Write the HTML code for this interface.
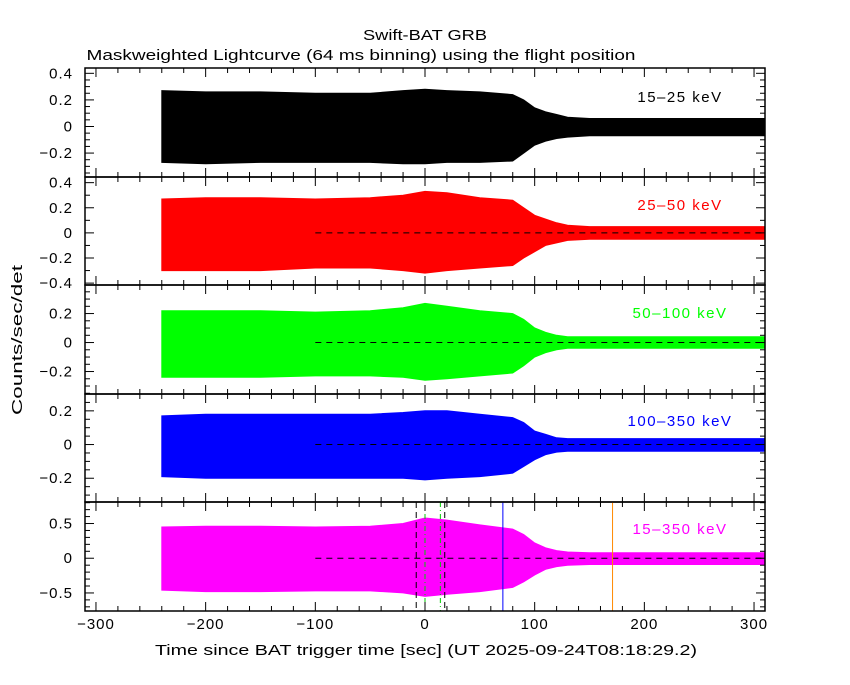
<!DOCTYPE html>
<html><head><meta charset="utf-8"><style>
body{margin:0;background:#fff;}
svg text{font-family:"Liberation Sans",sans-serif;}
</style></head><body>
<svg id="c" width="850" height="680" viewBox="0 0 850 680">
<text x="425" y="40" font-size="15" text-anchor="middle" textLength="124" lengthAdjust="spacingAndGlyphs">Swift-BAT GRB</text>
<text x="361" y="60" font-size="15" text-anchor="middle" textLength="549" lengthAdjust="spacingAndGlyphs">Maskweighted Lightcurve (64 ms binning) using the flight position</text>
<text transform="translate(22,340) rotate(-90)" font-size="15" text-anchor="middle" textLength="150" lengthAdjust="spacingAndGlyphs">Counts/sec/det</text>
<text x="426" y="655" font-size="15" text-anchor="middle" textLength="542" lengthAdjust="spacingAndGlyphs">Time since BAT trigger time [sec] (UT 2025-09-24T08:18:29.2)</text>
</svg>
<script>
const times=[-240,-200,-150,-100,-50,-20,0,20,50,80,90,100,110,120,130,150,200,250,310];
const upper1=[0.27,0.26,0.26,0.25,0.25,0.27,0.28,0.27,0.26,0.24,0.2,0.14,0.11,0.09,0.07,0.06,0.06,0.06,0.06];
const lower1=[-0.27,-0.28,-0.27,-0.27,-0.27,-0.28,-0.28,-0.27,-0.27,-0.26,-0.2,-0.14,-0.11,-0.09,-0.08,-0.07,-0.07,-0.07,-0.07];
const upper2=[0.27,0.28,0.28,0.27,0.28,0.3,0.33,0.32,0.28,0.26,0.2,0.14,0.11,0.08,0.06,0.05,0.05,0.05,0.05];
const lower2=[-0.3,-0.3,-0.3,-0.28,-0.28,-0.3,-0.32,-0.3,-0.28,-0.26,-0.2,-0.15,-0.1,-0.08,-0.06,-0.05,-0.05,-0.05,-0.05];
const upper3=[0.22,0.22,0.22,0.21,0.22,0.24,0.27,0.25,0.22,0.2,0.16,0.1,0.07,0.05,0.04,0.04,0.04,0.04,0.04];
const lower3=[-0.24,-0.24,-0.24,-0.23,-0.23,-0.24,-0.26,-0.25,-0.23,-0.21,-0.16,-0.1,-0.07,-0.05,-0.04,-0.04,-0.04,-0.04,-0.04];
const upper4=[0.17,0.18,0.18,0.18,0.18,0.19,0.2,0.2,0.18,0.16,0.13,0.08,0.06,0.04,0.035,0.035,0.035,0.035,0.035];
const lower4=[-0.19,-0.2,-0.2,-0.2,-0.2,-0.2,-0.21,-0.2,-0.19,-0.17,-0.13,-0.09,-0.06,-0.045,-0.04,-0.04,-0.04,-0.04,-0.04];
const upper5=[0.45,0.46,0.46,0.45,0.46,0.5,0.58,0.55,0.48,0.42,0.34,0.22,0.15,0.11,0.09,0.08,0.08,0.08,0.08];
const lower5=[-0.46,-0.48,-0.48,-0.47,-0.47,-0.5,-0.55,-0.52,-0.48,-0.42,-0.34,-0.24,-0.16,-0.12,-0.1,-0.09,-0.09,-0.09,-0.09];
const bandLabels=["15\u201325 keV","25\u201350 keV","50\u2013100 keV","100\u2013350 keV","15\u2013350 keV"];
const xTicks=[-300,-200,-100,0,100,200,300];
const markerTimes=[-8,18];
const t90Times=[0,14];
const blueTime=[71];
const orangeTime=[171];

const svg=document.getElementById('c');
const NS='http://www.w3.org/2000/svg';
const X0=85,X1=765,T0=-310,T1=310;
const xs=t=>X0+(t-T0)/(T1-T0)*(X1-X0);
const panels=[
 {top:68,bot:177,lo:-0.38,hi:0.44,ticks:[-0.2,0,0.2,0.4],minor:0.05,col:'#000',up:upper1,dn:lower1,dash:false,lx:680,ly:102},
 {top:177,bot:285,lo:-0.415,hi:0.445,ticks:[-0.4,-0.2,0,0.2,0.4],minor:0.1,col:'#f00',up:upper2,dn:lower2,dash:true,lx:680,ly:210},
 {top:285,bot:394,lo:-0.355,hi:0.397,ticks:[-0.2,0,0.2],minor:0.05,col:'#0f0',up:upper3,dn:lower3,dash:true,lx:680,ly:318},
 {top:394,bot:502,lo:-0.341,hi:0.3,ticks:[-0.2,0,0.2],minor:0.05,col:'#00f',up:upper4,dn:lower4,dash:true,lx:680,ly:426},
 {top:502,bot:611,lo:-0.76,hi:0.81,ticks:[-0.5,0,0.5],minor:0.1,col:'#f0f',up:upper5,dn:lower5,dash:true,lx:680,ly:534}
];
function el(tag,attrs,parent){const e=document.createElementNS(NS,tag);for(const k in attrs)e.setAttribute(k,attrs[k]);(parent||svg).appendChild(e);return e;}
function fmt(v){if(Math.abs(v)<1e-9)return '0';let s=String(Math.round(v*10)/10);return s.replace('-','\u2212');}
panels.forEach((p,i)=>{
 const ys=v=>p.bot-(v-p.lo)/(p.hi-p.lo)*(p.bot-p.top);
 const g=el('g',{});
 
 
 let d='';
 times.forEach((t,k)=>{d+=(k?'L':'M')+xs(t).toFixed(1)+' '+ys(p.up[k]).toFixed(1);});
 for(let k=times.length-1;k>=0;k--)d+='L'+xs(times[k]).toFixed(1)+' '+ys(p.dn[k]).toFixed(1);
 const band=el('path',{d:d+'Z',fill:p.col,stroke:p.col,'stroke-width':1},g);
 
 
 if(p.dash){
  const z=el('line',{x1:xs(-100),x2:X1,y1:ys(0),y2:ys(0),stroke:'#000','stroke-dasharray':'6,5','stroke-width':1},g);
  
  
 }
 if(i===4){
  markerTimes.forEach(t=>{const l=el('line',{x1:xs(t),x2:xs(t),y1:p.top,y2:p.bot,stroke:'#000','stroke-dasharray':'6,4'},g);
   
   });
  t90Times.forEach(t=>{const l=el('line',{x1:xs(t),x2:xs(t),y1:p.top,y2:p.bot,stroke:'#0c0','stroke-dasharray':'5,3,1,3'},g);
   
   });
  blueTime.forEach(t=>{const l=el('line',{x1:xs(t),x2:xs(t),y1:p.top,y2:p.bot,stroke:'#00f'},g);
   
   });
  orangeTime.forEach(t=>{const l=el('line',{x1:xs(t),x2:xs(t),y1:p.top,y2:p.bot,stroke:'#f80'},g);
   
   });
 }
 const fr=el('rect',{x:X0,y:p.top,width:X1-X0,height:p.bot-p.top,fill:'none',stroke:'#000','stroke-width':1.5},g);
 
 
 for(let v=Math.ceil(p.lo/p.minor)*p.minor;v<=p.hi+1e-9;v+=p.minor){
  const y=ys(v);const major=p.ticks.some(t=>Math.abs(t-v)<1e-6);const L=major?9:5;
  el('line',{x1:X0,x2:X0+L,y1:y,y2:y,stroke:'#000'},g);
  el('line',{x1:X1,x2:X1-L,y1:y,y2:y,stroke:'#000'},g);
 }
 p.ticks.forEach(v=>{const t=el('text',{x:73,y:ys(v)+5,'font-size':15,'text-anchor':'end','letter-spacing':'1'},g);t.textContent=fmt(v);
  
  });
 for(let t=-300;t<=300;t+=20){const x=xs(t);const major=t%100===0;const L=major?9:5;
  el('line',{x1:x,x2:x,y1:p.bot,y2:p.bot-L,stroke:'#000'},g);
  el('line',{x1:x,x2:x,y1:p.top,y2:p.top+L,stroke:'#000'},g);}
 const lb=el('text',{x:p.lx,y:p.ly,'font-size':15,'text-anchor':'middle',fill:p.col,'letter-spacing':'1.5'},g);
 lb.textContent=bandLabels[i];
 
 
});
xTicks.forEach(t=>{const tx=el('text',{x:xs(t),y:629,'font-size':15,'text-anchor':'middle','letter-spacing':'1'});tx.textContent=fmt(t);
 
 });
</script>
</body></html>
